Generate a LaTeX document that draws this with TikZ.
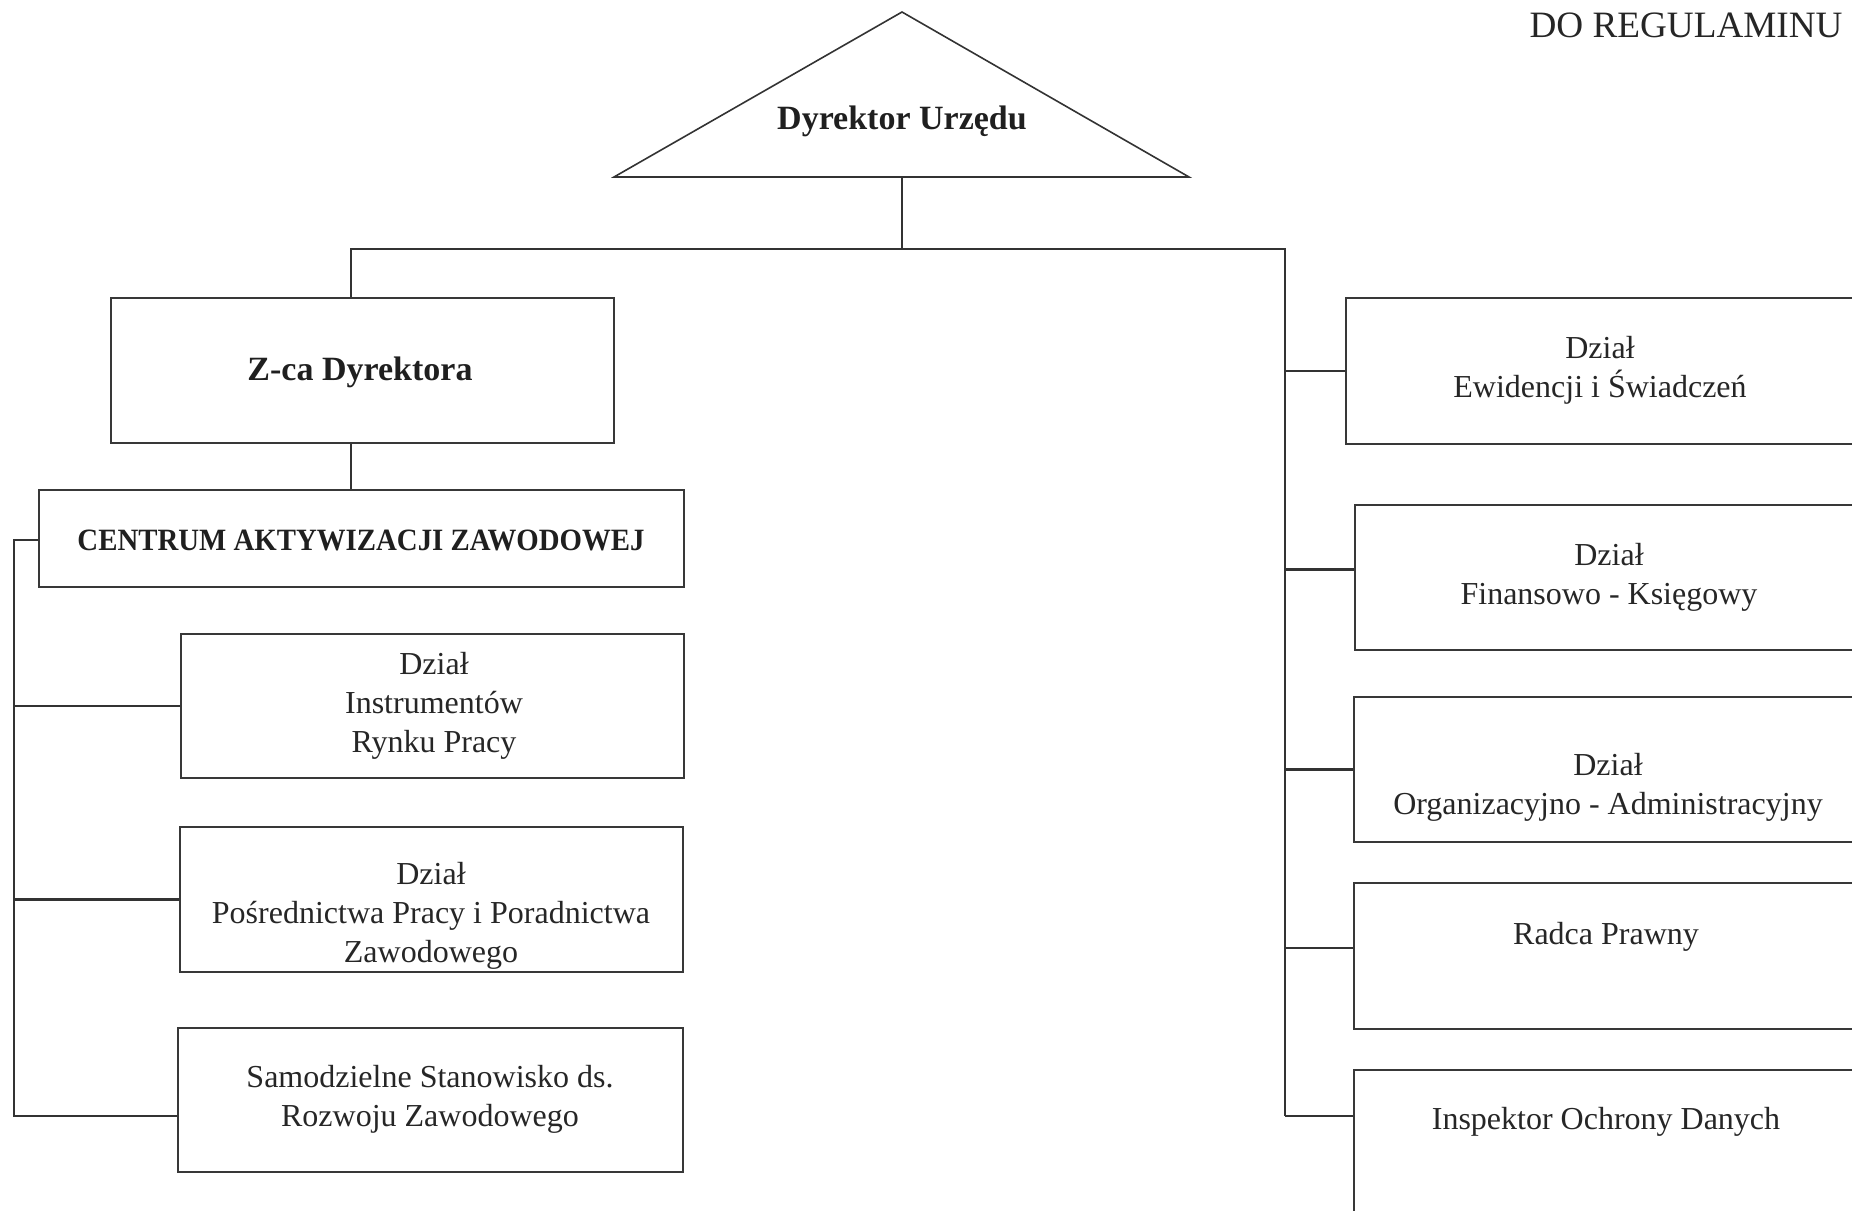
\documentclass[tikz,border=0pt]{standalone}
\usepackage{fontspec}
\setmainfont{Liberation Serif}
\newfontfamily\condbold[FakeStretch=0.93]{Liberation Serif Bold}
\usetikzlibrary{fit}
\begin{document}
\begin{tikzpicture}[x=0.5pt,y=-0.5pt,
  box/.style={draw=black!78, line width=1pt, inner sep=0pt},
  txt/.style={align=center, text=black!85, font=\fontsize{16}{19.5}\selectfont, inner sep=0pt, yshift=-2pt},
  btxt/.style={align=center, text=black!88, font=\fontsize{17}{20}\selectfont\bfseries, inner sep=0pt, yshift=-2pt},
  conn/.style={draw=black!80, line width=1.1pt},
  tri/.style={draw=black!80, line width=0.8pt}]
\useasboundingbox (0,0) rectangle (1852,1210);

% header
\node[txt, anchor=east, font=\fontsize{18.6}{20}\selectfont, yshift=2pt] (hdr) at (1843,25) {DO REGULAMINU};

% director triangle
\coordinate (apex) at (902,12);
\coordinate (tl) at (614,177);
\coordinate (tr) at (1189,177);
\coordinate (tbase) at (902,177);
\draw[tri] (apex) -- (tl) -- (tr) -- cycle;
\node[btxt] (dir) at (902,117) {Dyrektor Urzędu};

% bus coordinates
\coordinate (tbus) at (902,249);
\coordinate (lb) at (351,249);
\coordinate (rb) at (1285,249);
\coordinate (rbend) at (1285,1116);
\coordinate (lbt) at (14,540);
\coordinate (lbb) at (14,1116);

% left boxes
\node[box, fit={(111,298)(614,443)}] (zca) {};
\node[btxt] (zcat) at (360,368) {Z-ca Dyrektora};
\node[box, fit={(39,490)(684,587)}] (caz) {};
\node[btxt, font=\fontsize{15.5}{18}\condbold] (cazt) at (361,536) {CENTRUM AKTYWIZACJI ZAWODOWEJ};
\node[box, fit={(181,634)(684,778)}] (irp) {};
\node[txt] (irpt) at (434,702) {Dział\\Instrumentów\\Rynku Pracy};
\node[box, fit={(180,827)(683,972)}] (ppz) {};
\node[txt] (ppzt) at (431,912) {Dział\\Pośrednictwa Pracy i Poradnictwa\\Zawodowego};
\node[box, fit={(178,1028)(683,1172)}] (srz) {};
\node[txt] (srzt) at (430,1095) {Samodzielne Stanowisko ds.\\Rozwoju Zawodowego};

% right boxes
\node[box, fit={(1346,298)(1858,444)}] (ewi) {};
\node[txt] (ewit) at (1600,366) {Dział\\Ewidencji i Świadczeń};
\node[box, fit={(1355,505)(1858,650)}] (fin) {};
\node[txt] (fint) at (1609,573) {Dział\\Finansowo - Księgowy};
\node[box, fit={(1354,697)(1858,842)}] (org) {};
\node[txt] (orgt) at (1608,783) {Dział\\Organizacyjno - Administracyjny};
\node[box, fit={(1354,883)(1858,1029)}] (rad) {};
\node[txt] (radt) at (1606,933) {Radca Prawny};
\node[box, fit={(1354,1070)(1858,1222)}] (iod) {};
\node[txt] (iodt) at (1606,1118) {Inspektor Ochrony Danych};

% connectors
\draw[conn] (tbase) -- (tbus);
\draw[conn] (lb |- zca.north) -- (lb) -- (rb) -- (rbend);
\draw[conn] (lb |- zca.south) -- (lb |- caz.north);
\draw[conn] (caz.west |- lbt) -- (lbt) -- (lbb) -- (lbb -| srz.west);
\draw[conn] (lbt |- irp.west) -- (irp.west);
\draw[conn] (lbt |- ppz.west) -- (ppz.west);
\draw[conn] (rb |- ewi.west) -- (ewi.west);
\draw[conn] ([yshift=4pt]rb |- fin.west) -- ([yshift=4pt]fin.west);
\draw[conn] (rb |- org.west) -- (org.west);
\draw[conn] ([yshift=4pt]rb |- rad.west) -- ([yshift=4pt]rad.west);
\draw[conn] (rbend) -- (rbend -| iod.west);
\end{tikzpicture}
\end{document}
